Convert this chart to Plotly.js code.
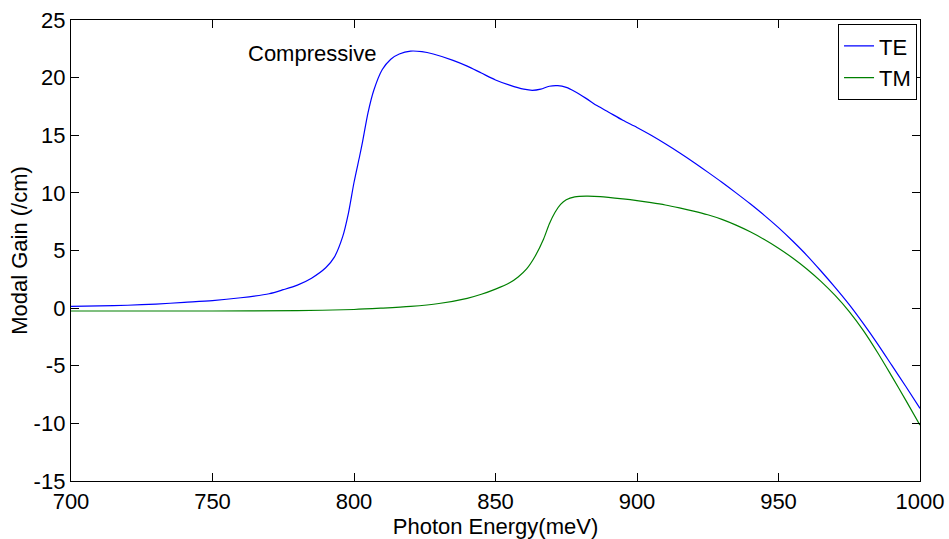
<!DOCTYPE html>
<html>
<head>
<meta charset="utf-8">
<script src="https://cdn.plot.ly/plotly-3.0.1.min.js"></script>
<style>html,body{margin:0;padding:0;background:#fff;}#chart{width:949px;height:539px;}</style>
</head>
<body>
<div id="chart"></div>
<script>
const teEnergy = [700,710,720,730,740,750,760,770,775,780,785,790,793,796,798,800,802,803,805,807,810,813,816,820,824,828,835,840,845,850,855,860,863,866,869,872,875,878,882,886,890,895,900,905,910,915,920,925,930,935,940,945,950,955,960,965,970,975,980,985,990,995,1000];
const teGain = [0.15,0.2,0.25,0.35,0.5,0.65,0.9,1.25,1.6,2.0,2.6,3.5,4.4,6.2,8.2,10.9,13.2,14.4,17.0,18.9,20.7,21.6,22.05,22.3,22.25,22.05,21.5,21.0,20.4,19.8,19.35,19.0,18.9,19.0,19.25,19.3,19.15,18.8,18.2,17.55,17.0,16.3,15.68,15.0,14.26,13.48,12.66,11.8,10.92,10.0,9.05,8.05,6.98,5.82,4.58,3.22,1.8,0.3,-1.35,-3.1,-4.95,-6.8,-8.7];
const tmEnergy = [700,750,780,800,810,820,830,840,845,850,855,858,861,864,867,869,871,873,875,878,882,887,895,900,905,910,915,920,925,930,935,940,945,950,955,960,965,970,975,980,985,990,995,1000];
const tmGain = [-0.25,-0.25,-0.22,-0.12,0.0,0.15,0.4,0.85,1.2,1.65,2.2,2.7,3.4,4.5,6.0,7.3,8.3,9.0,9.4,9.65,9.72,9.68,9.48,9.33,9.15,8.95,8.7,8.42,8.1,7.7,7.2,6.62,5.95,5.2,4.35,3.4,2.32,1.1,-0.3,-1.95,-3.85,-5.9,-8.0,-10.15];
const xTicks = [700,750,800,850,900,950,1000];
const yTicks = [-15,-10,-5,0,5,10,15,20,25];
const seriesNames = ['TE','TM'];
const annotationText = 'Compressive';

const fontFamily = 'Liberation Sans, Arial, sans-serif';
const fs = 22;
const data = [
  {x: teEnergy, y: teGain, name: seriesNames[0], type: 'scatter', mode: 'lines', line: {color: '#0000ff', width: 1.2, shape: 'spline', smoothing: 0.8}},
  {x: tmEnergy, y: tmGain, name: seriesNames[1], type: 'scatter', mode: 'lines', line: {color: '#008000', width: 1.2, shape: 'spline', smoothing: 0.8}}
];
const axisCommon = {
  showline: true, linecolor: '#000', linewidth: 1.2, mirror: 'ticks',
  ticks: 'inside', ticklen: 8, tickcolor: '#000', tickwidth: 1,
  showgrid: false, zeroline: false,
  tickfont: {family: fontFamily, size: fs, color: '#000'}
};
const layout = {
  width: 949, height: 539,
  margin: {l: 71, r: 29, t: 20, b: 58},
  paper_bgcolor: '#fff', plot_bgcolor: '#fff',
  font: {family: fontFamily, size: fs, color: '#000'},
  showlegend: true,
  legend: {x: 0.9965, y: 0.991, xanchor: 'right', yanchor: 'top', bgcolor: '#fff', bordercolor: '#000', borderwidth: 1,
           font: {family: fontFamily, size: fs, color: '#000'}, tracegroupgap: 0, itemwidth: 30},
  xaxis: Object.assign({}, axisCommon, {range: [700, 1000], tickvals: xTicks, ticktext: xTicks.map(String), ticklabelstandoff: 0,
         title: {text: 'Photon Energy(meV)', font: {family: fontFamily, size: fs, color: '#000'}, standoff: 0}}),
  yaxis: Object.assign({}, axisCommon, {range: [-15, 25], tickvals: yTicks, ticktext: yTicks.map(String), ticklabelstandoff: 0,
         title: {text: 'Modal Gain (/cm)', font: {family: fontFamily, size: fs, color: '#000'}, standoff: 0}}),
  annotations: [{x: 785.3, y: 22.1, xref: 'x', yref: 'y', text: annotationText, showarrow: false,
                 font: {family: fontFamily, size: fs, color: '#000'}}]
};
Plotly.newPlot('chart', data, layout, {displayModeBar: false, staticPlot: true});
</script>
</body>
</html>
